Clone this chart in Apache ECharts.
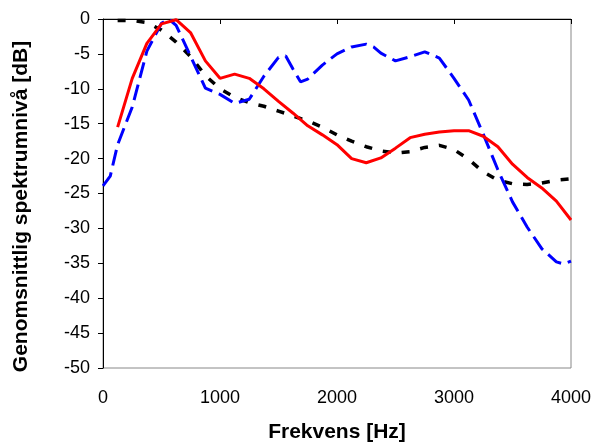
<!DOCTYPE html>
<html>
<head>
    <meta charset="utf-8">
    <title>Spektrumnivå</title>
    <style>
        html,body{margin:0;padding:0;background:#fff;}
    </style>
</head>
<body>
<div id="main" style="width:593px;height:443px;"></div>
<script src="https://cdn.jsdelivr.net/npm/echarts@6/dist/echarts.min.js"></script>
<script type="text/javascript">
    // frekvenser (Hz) for rod och svart kurva
    var freqs = [125, 250, 375, 500, 625, 750, 875, 1000, 1125, 1250, 1375, 1500, 1625, 1750, 1875, 2000,
        2125, 2250, 2375, 2500, 2625, 2750, 2875, 3000, 3125, 3250, 3375, 3500, 3625, 3750, 3875, 4000];
    var redVals = [-15.5, -8.5, -3.5, -0.7, -0.1, -2.0, -6.0, -8.5, -7.9, -8.5, -10.0, -11.8, -13.5, -15.3, -16.6, -18.0,
        -20.0, -20.6, -19.9, -18.5, -17.0, -16.5, -16.2, -16.0, -16.0, -16.8, -18.3, -20.8, -22.7, -24.2, -26.1, -28.8];
    var blackVals = [-0.2, -0.2, -0.5, -1.6, -3.3, -5.4, -8.1, -10.0, -11.2, -12.0, -12.5, -13.2, -13.9, -14.6, -15.5, -16.6,
        -17.5, -18.3, -18.9, -19.2, -19.0, -18.4, -18.1, -18.7, -20.1, -21.9, -23.1, -23.6, -23.7, -23.5, -23.1, -22.9];

    // blå kurva har egna frekvenser
    var blueFreqs = [0, 62, 125, 250, 375, 500, 562, 625, 750, 875, 1000, 1125, 1250, 1375, 1500, 1562, 1625, 1688, 1750,
        1875, 2000, 2125, 2250, 2312, 2375, 2500, 2625, 2750, 2875, 3000, 3125, 3250, 3375, 3500, 3625, 3750, 3875, 3938, 4000];
    var blueVals = [-23.9, -22.5, -18.0, -12.6, -4.6, -0.6, 0, -0.9, -5.4, -9.9, -10.8, -12.1, -11.5, -8.2, -5.5, -5.3, -7.2, -9.0, -8.6,
        -6.6, -5.0, -4.0, -3.6, -4.0, -4.9, -6.0, -5.4, -4.7, -5.6, -8.5, -11.6, -16.5, -21.6, -26.2, -29.8, -32.9, -34.8, -35.1, -34.7];

    function pairs(xs, ys) {
        var out = [];
        for (var i = 0; i < xs.length; i++) out.push([xs[i], ys[i]]);
        return out;
    }

    var font = 'Liberation Sans, Arial, sans-serif';
    var myChart = echarts.init(document.getElementById('main'));
    myChart.setOption({
        animation: false,
        grid: {
            left: 103, right: 22, top: 19, bottom: 75,
            containLabel: false, outerBoundsMode: 'none',
            show: true, borderColor: '#888', borderWidth: 1, backgroundColor: '#fff'
        },
        xAxis: {
            type: 'value', min: 0, max: 4000, interval: 1000,
            name: 'Frekvens [Hz]', nameLocation: 'middle', nameGap: 54,
            nameTextStyle: {fontFamily: font, fontSize: 21, fontWeight: 'bold', color: '#000'},
            axisLine: {lineStyle: {color: '#000', width: 1}},
            axisTick: {show: true, inside: false, length: 5, lineStyle: {color: '#000'}},
            axisLabel: {fontFamily: font, fontSize: 18, color: '#000', margin: 21,
                formatter: function (v) { return String(v); }},
            splitLine: {show: false}
        },
        yAxis: {
            type: 'value', min: -50, max: 0, interval: 5,
            name: 'Genomsnittlig spektrumnivå [dB]', nameLocation: 'middle', nameGap: 71,
            nameTextStyle: {fontFamily: font, fontSize: 21, fontWeight: 'bold', color: '#000', padding: [0, 26, 0, 0]},
            axisLine: {show: true, lineStyle: {color: '#000', width: 1}},
            axisTick: {show: true, inside: false, length: 5, lineStyle: {color: '#000'}},
            axisLabel: {fontFamily: font, fontSize: 18, color: '#000', margin: 13},
            splitLine: {show: false}
        },
        series: [
            {
                type: 'line', data: pairs(freqs, blackVals), showSymbol: false,
                lineStyle: {color: '#000', width: 3.5, type: [8, 11]}
            },
            {
                type: 'line', data: pairs(blueFreqs, blueVals), showSymbol: false,
                lineStyle: {color: '#0000ff', width: 3, type: [16, 7]}
            },
            {
                type: 'line', data: pairs(freqs, redVals), showSymbol: false,
                lineStyle: {color: '#ff0000', width: 3}
            }
        ]
    });
</script>
</body>
</html>
